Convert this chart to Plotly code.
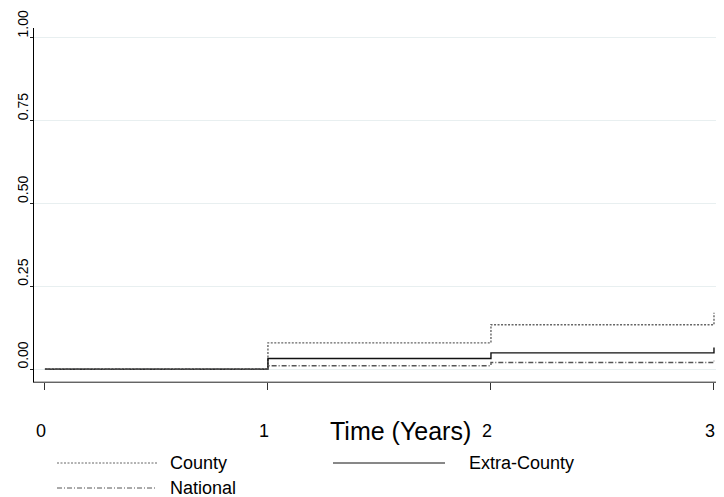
import plotly.graph_objects as go

times = [0, 1, 2, 3]
county = [0.0, 0.079, 0.134, 0.170]
extra_county = [0.0, 0.032, 0.049, 0.065]
national = [0.0, 0.010, 0.020, 0.025]
x_ticks = [0, 1, 2, 3]
x_tick_labels = ["0", "1", "2", "3"]
y_ticks = [0, 0.25, 0.5, 0.75, 1.0]
y_tick_labels = ["0.00", "0.25", "0.50", "0.75", "1.00"]
x_title = "Time (Years)"

series = [
    ("County", county, dict(color="#666666", width=1.4, dash="2px,1.5px")),
    ("Extra-County", extra_county, dict(color="#111111", width=1.4, dash="solid")),
    ("National", national, dict(color="#555555", width=1.4, dash="5px,2px,1px,2px")),
]

fig = go.Figure()
for name, vals, line in series:
    fig.add_trace(go.Scatter(x=times, y=vals, mode="lines", line_shape="hv",
                             line=line, name=name, showlegend=False))

W, H = 724, 497
OFF = 8  # page body margin in the browser
ml, mr, mt, mb = 34 - OFF, W - (720 - OFF), 28 - OFF, H - (382 - OFF)
font = "Liberation Sans, Arial, sans-serif"

fig.update_layout(
    width=W, height=H,
    margin=dict(l=ml, r=mr, t=mt, b=mb, pad=0),
    paper_bgcolor="white", plot_bgcolor="white",
    font=dict(family=font, size=18, color="#000"),
    xaxis=dict(range=[-0.049, 3.027], tickvals=x_ticks, ticktext=x_tick_labels,
               ticks="outside", ticklen=7, ticklabelposition="outside",
               ticklabelstandoff=25,
               tickcolor="#333", showgrid=False, zeroline=False, showline=True,
               linecolor="#555", linewidth=1, ticklabelshift=-4,
               automargin=False, tickfont=dict(size=18)),
    yaxis=dict(range=[-0.039, 1.030], tickvals=y_ticks, ticktext=y_tick_labels,
               ticks="outside", ticklen=3, tickcolor="#222", tickangle=-90,
               tickfont=dict(size=14), automargin=False,
               ticklabelposition="outside", ticklabelstandoff=-4,
               ticklabelshift=-12,
               showgrid=True, gridcolor="#e8eff0", gridwidth=1, zeroline=False,
               showline=True, linecolor="#000", linewidth=1),
)

# bottom frame line of the plot area
fig.add_shape(type="line", xref="x domain", yref="y domain", x0=0, x1=1, y0=0, y1=0,
              line=dict(color="#777777", width=1))

# positions below are screen pixels; convert to paper coords
def px(x):
    return (x - OFF - ml) / (W - ml - mr)

def py(y):
    return (H - mb - (y - OFF)) / (H - mt - mb)

fig.add_annotation(xref="paper", yref="paper", x=px(400), y=py(431), text=x_title,
                   showarrow=False, xanchor="center", yanchor="middle",
                   font=dict(size=25, family=font))

legend_items = [
    ("County", series[0][2], 57, 157, 168, 463),
    ("Extra-County", series[1][2], 333, 445, 467, 463),
    ("National", series[2][2], 57, 157, 168, 488),
]
for text, line, x0, x1, tx, y in legend_items:
    fig.add_shape(type="line", xref="paper", yref="paper",
                  x0=px(x0), x1=px(x1), y0=py(y), y1=py(y),
                  line=dict(color=line["color"], width=1, dash=line["dash"]))
    fig.add_annotation(xref="paper", yref="paper", x=px(tx), y=py(y),
                       text=text, showarrow=False, xanchor="left", yanchor="middle",
                       font=dict(size=18, family=font))

fig.write_html("out.html")
